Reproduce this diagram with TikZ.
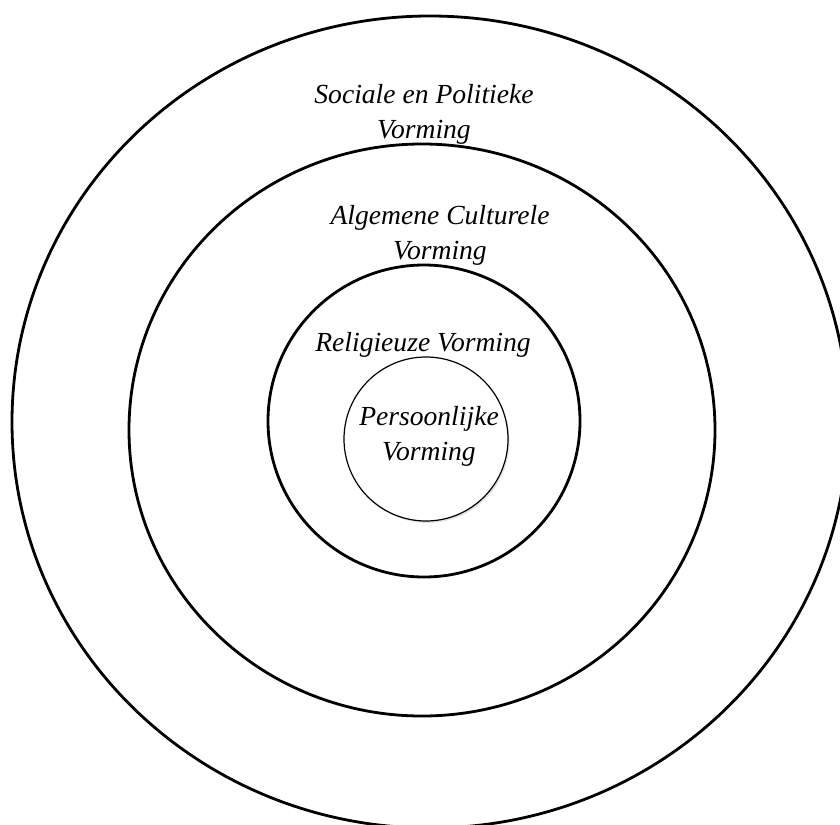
\documentclass[tikz,border=0pt]{standalone}
\usepackage{fontspec}
\setmainfont{Liberation Serif}
\usetikzlibrary{shadows}
\begin{document}
\begin{tikzpicture}[x=0.5pt,y=-0.5pt,
  ring/.style={line width=1.4pt},
  lbl/.style={font=\fontsize{13.8}{17.5}\selectfont\itshape, align=center, inner sep=0pt}]
\useasboundingbox (0,0) rectangle (840,824);
\fill[white] (0,0) rectangle (840,824);
\draw[ring] (430,422) ellipse [x radius=418, y radius=406];
\draw[ring] (422,430) ellipse [x radius=293, y radius=286];
\draw[ring] (424,421) ellipse [x radius=156, y radius=156];
\draw[line width=0.6pt, fill=white, drop shadow={shadow xshift=0.8pt, shadow yshift=-1pt, opacity=0.2}] (426,439) circle [radius=82];
\node[lbl] (sp) at (424,114) {Sociale en Politieke\\Vorming};
\node[lbl] (ac) at (440,235) {Algemene Culturele\\Vorming};
\node[lbl] (rv) at (423,345) {Religieuze Vorming};
\node[lbl] (pv) at (429,436) {Persoonlijke\\Vorming};
\end{tikzpicture}
\end{document}
